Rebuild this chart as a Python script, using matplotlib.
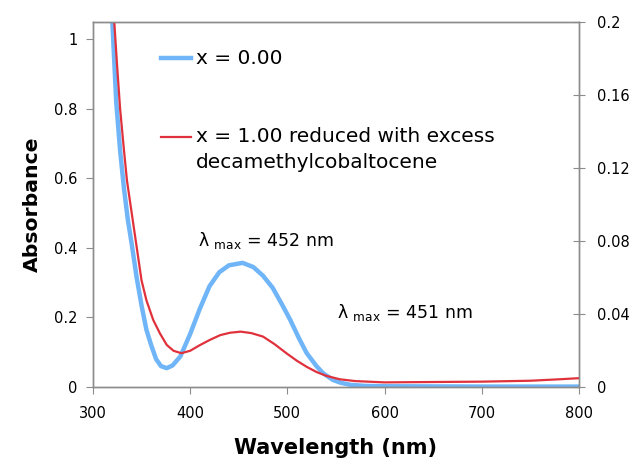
import matplotlib.pyplot as plt
from matplotlib.ticker import FuncFormatter
from matplotlib.lines import Line2D

# blue: x = 0.00 (left axis, absorbance)
wl_blue = [320, 324, 328, 332, 336, 340, 345, 350, 355, 360, 365, 370, 376, 382, 390, 400,
           410, 420, 430, 440, 454, 465, 475, 485, 495, 503, 512, 520, 530, 537, 547, 555,
           565, 580, 600, 700, 800]
abs_blue = [1.05, 0.82, 0.68, 0.57, 0.48, 0.41, 0.315, 0.235, 0.165, 0.12, 0.08, 0.06, 0.054,
            0.062, 0.088, 0.152, 0.225, 0.29, 0.33, 0.35, 0.357, 0.345, 0.32, 0.285, 0.235,
            0.193, 0.14, 0.097, 0.06, 0.039, 0.02, 0.012, 0.006, 0.003, 0.002, 0.001, 0.001]

# red: x = 1.00 reduced with excess decamethylcobaltocene (right axis)
wl_red = [322, 325, 328, 332, 335, 340, 345, 350, 355, 362, 369, 376, 383, 391,
          400, 410, 420, 431, 441, 452, 463, 475, 487, 499, 510, 520, 530, 540, 554, 570,
          600, 650, 700, 750, 780, 800]
abs_red = [0.2000, 0.1752, 0.1524, 0.1295, 0.1133, 0.0950, 0.0768, 0.0585, 0.0476, 0.0368,
           0.0293, 0.0230, 0.0198, 0.0185, 0.0198, 0.0229, 0.0257, 0.0284,
           0.0297, 0.0303, 0.0295, 0.0276, 0.0234, 0.0185, 0.0143, 0.0110, 0.0082, 0.0061,
           0.0042, 0.0032, 0.0025, 0.0027, 0.0029, 0.0034, 0.0042, 0.0048]

blue_c = "#6fb5f7"
red_c = "#e0323c"
grey = "#8c8c8c"

fig = plt.figure(figsize=(6.32, 4.59), dpi=100)
ax = fig.add_axes([0.147, 0.157, 0.769, 0.795])
ax2 = ax.twinx()

ax.plot(wl_blue, abs_blue, color=blue_c, lw=3.2, solid_joinstyle="round")
ax2.plot(wl_red, abs_red, color=red_c, lw=1.6, solid_joinstyle="round")

ax.set_xlim(300, 800)
ax.set_ylim(0, 1.05)
ax2.set_ylim(0, 0.2)
ax.set_xticks([300, 400, 500, 600, 700, 800])
ax.set_yticks([0, 0.2, 0.4, 0.6, 0.8, 1.0])
ax2.set_yticks([0, 0.04, 0.08, 0.12, 0.16, 0.2])
fmt = FuncFormatter(lambda v, p: "%g" % round(v, 3))
ax.yaxis.set_major_formatter(fmt)
ax2.yaxis.set_major_formatter(fmt)

for a in (ax, ax2):
    for s in a.spines.values():
        s.set_color(grey)
        s.set_linewidth(1.0)
ax.tick_params(direction="out", length=5, color=grey, labelsize=10.5)
ax.tick_params(axis="y", pad=6)
ax.tick_params(axis="x", pad=9)
ax2.tick_params(direction="inout", length=8, color=grey, labelsize=10.5, pad=9)

ax.set_xlabel("Wavelength (nm)", fontsize=15, fontweight="bold", labelpad=12)
ax.set_ylabel("Absorbance", fontsize=14.7, fontweight="bold", labelpad=9)

# legend drawn by hand to match layout
ax.add_line(Line2D([0.14, 0.202], [0.901, 0.901], transform=ax.transAxes, color=blue_c, lw=3.2))
ax.text(0.212, 0.901, "x = 0.00", transform=ax.transAxes, fontsize=14.5, va="center")
ax.add_line(Line2D([0.14, 0.202], [0.685, 0.685], transform=ax.transAxes, color=red_c, lw=1.6))
ax.text(0.212, 0.685, "x = 1.00 reduced with excess", transform=ax.transAxes, fontsize=14.5, va="center")
ax.text(0.212, 0.614, "decamethylcobaltocene", transform=ax.transAxes, fontsize=14.5, va="center")

ax.text(0.216, 0.40, r"λ $_{\mathrm{max}}$ = 452 nm", transform=ax.transAxes, fontsize=12.5, va="center")
ax.text(0.502, 0.205, r"λ $_{\mathrm{max}}$ = 451 nm", transform=ax.transAxes, fontsize=12.5, va="center")

fig.savefig("out.png", dpi=100)
